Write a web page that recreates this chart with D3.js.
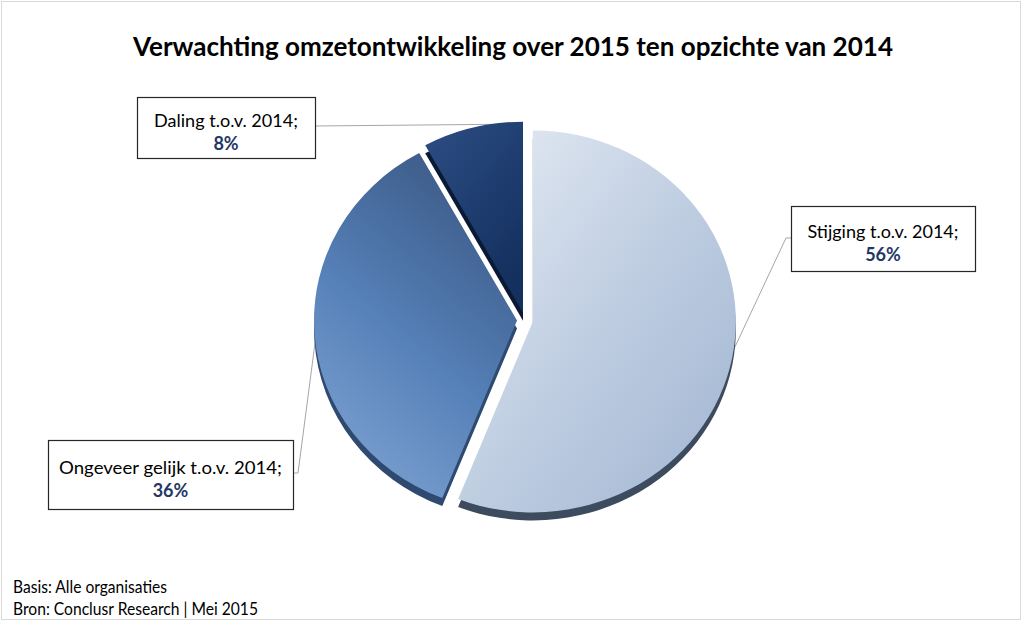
<!DOCTYPE html>
<html>
<head>
<meta charset="utf-8">
<script src="https://cdn.jsdelivr.net/npm/d3@7"></script>
<style>
  body { margin: 0; background: #fff; }
  svg { display: block; }
</style>
</head>
<body>
<svg id="chart" width="1024" height="625"></svg>
<script>
// data
const title = "Verwachting omzetontwikkeling over 2015 ten opzichte van 2014";
const categories = ["Stijging t.o.v. 2014;", "Ongeveer gelijk t.o.v. 2014;", "Daling t.o.v. 2014;"];
const values = [56, 36, 8];
const footnotes = ["Basis: Alle organisaties", "Bron: Conclusr Research | Mei 2015"];

// styling / layout
const topStops = [
    [["0%", "#e6ecf4"], ["55%", "#bccbe0"], ["100%", "#a1b5d1"]],
    [["0%", "#3a5782"], ["55%", "#5580b8"], ["100%", "#7ea2d2"]],
    [["0%", "#2d4d84"], ["100%", "#13305e"]]
];
const gradDir = [[0, 0, 1, 1], [0.75, 0, 0.25, 1], [0, 0, 0.6, 1]];
const sideColors = ["#3d4b5f", "#2f4a70", "#0a1a35"];
const boxes = [
    { x: 791, y: 206, w: 184, h: 65, tw: 151, lead: [[791, 238], [786, 238]] },
    { x: 48, y: 440, w: 245, h: 69, tw: 223, lead: [[293, 473], [298, 473]] },
    { x: 137, y: 97, w: 178, h: 61, tw: 144, lead: [[315, 126]] }
];
const cx = 525, cy = 320, rx = 203, ry = 191, explode = 8, depth = 8;
const font = "Lato, 'Open Sans', sans-serif";

const svg = d3.select("#chart");
const defs = svg.append("defs");

svg.append("rect")
    .attr("x", 1.5).attr("y", 1.5)
    .attr("width", 1019).attr("height", 618)
    .attr("fill", "#fff")
    .attr("stroke", "#d9d9d9");

function fitText(sel, width) {
    sel.each(function () {
        const w = this.getComputedTextLength();
        if (w > 0) d3.select(this).attr("textLength", width).attr("lengthAdjust", "spacingAndGlyphs");
    });
}

svg.append("text")
    .attr("x", 513).attr("y", 56)
    .attr("text-anchor", "middle")
    .attr("font-family", font)
    .attr("font-weight", "bold")
    .attr("font-size", 26)
    .attr("fill", "#000")
    .text(title)
    .call(fitText, 760);

// gradients
topStops.forEach((stops, i) => {
    const g = defs.append("linearGradient")
        .attr("id", "grad" + i)
        .attr("x1", gradDir[i][0]).attr("y1", gradDir[i][1])
        .attr("x2", gradDir[i][2]).attr("y2", gradDir[i][3]);
    stops.forEach(s => g.append("stop").attr("offset", s[0]).attr("stop-color", s[1]));
});

const pie = d3.pie().sort(null).value(d => d);
const arcs = pie(values);
const arc = d3.arc().innerRadius(0).outerRadius(rx);
const k = ry / rx;

function shift(d) {
    const a = (d.startAngle + d.endAngle) / 2;
    return [explode * Math.sin(a), -explode * Math.cos(a)];
}

// leader lines (behind pie)
const leadAngle = d => d.index === 2 ? d.endAngle - 0.07 : (d.startAngle + d.endAngle) / 2;
const leaders = svg.append("g");
arcs.forEach((d, i) => {
    const [dx, dy] = shift(d);
    const a = leadAngle(d);
    const px = cx + dx + (rx - 2) * Math.sin(a);
    const py = cy + dy * k - (ry - 2) * Math.cos(a);
    const pts = boxes[i].lead.concat([[px, py]]);
    leaders.append("path")
        .attr("d", d3.line()(pts))
        .attr("fill", "none")
        .attr("stroke", "#a6a6a6")
        .attr("stroke-width", 1);
});

const pieG = svg.append("g")
    .attr("transform", `translate(${cx},${cy}) scale(1,${k})`);

// side / depth
pieG.selectAll(".side")
    .data(arcs)
    .join("path")
    .attr("class", "side")
    .attr("transform", d => { const [dx, dy] = shift(d); return `translate(${dx},${dy + depth / k})`; })
    .attr("d", arc)
    .attr("fill", (d, i) => sideColors[i]);

// top faces
pieG.selectAll(".top")
    .data(arcs)
    .join("path")
    .attr("class", "top")
    .attr("transform", d => { const [dx, dy] = shift(d); return `translate(${dx},${dy})`; })
    .attr("d", arc)
    .attr("fill", (d, i) => `url(#grad${i})`);

// labels
const labels = svg.append("g").attr("font-family", font);
boxes.forEach((b, i) => {
    labels.append("rect")
        .attr("x", b.x + 0.5).attr("y", b.y + 0.5)
        .attr("width", b.w).attr("height", b.h)
        .attr("fill", "#fff")
        .attr("stroke", "#262626")
        .attr("stroke-width", 1.2);
    const mx = b.x + b.w / 2;
    const base = b.y + b.h / 2 - 1;
    labels.append("text")
        .attr("x", mx).attr("y", base)
        .attr("text-anchor", "middle")
        .attr("font-size", 18)
        .attr("fill", "#000")
        .text(categories[i])
        .call(fitText, b.tw);
    labels.append("text")
        .attr("x", mx).attr("y", base + 23)
        .attr("text-anchor", "middle")
        .attr("font-size", 18)
        .attr("font-weight", "bold")
        .attr("fill", "#1f3864")
        .text(values[i] + "%");
});

// footnotes
const footW = [154, 245];
footnotes.forEach((t, i) => {
    svg.append("text")
        .attr("x", 13).attr("y", 593 + i * 22)
        .attr("font-family", font)
        .attr("font-size", 17)
        .attr("fill", "#000")
        .text(t)
        .call(fitText, footW[i]);
});
</script>
</body>
</html>
